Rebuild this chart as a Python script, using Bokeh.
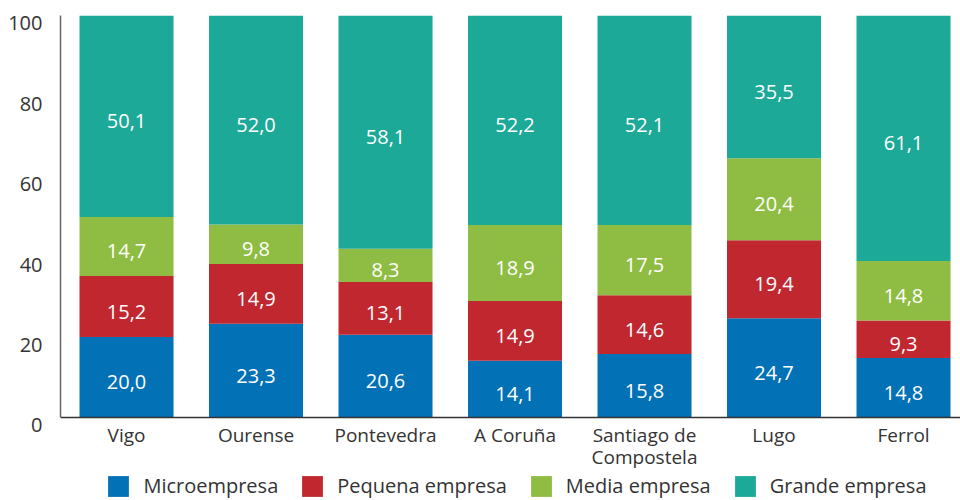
import numpy as np
from bokeh.plotting import figure
from bokeh.models import (ColumnDataSource, FixedTicker, Legend, LegendItem, Range1d,
                          LinearAxis, Span)
from bokeh.core.properties import value
from bokeh.embed import file_html
from bokeh.resources import INLINE

cities = ["Vigo", "Ourense", "Pontevedra", "A Coruña", "Santiago de\nCompostela", "Lugo", "Ferrol"]
series = ["Microempresa", "Pequena empresa", "Media empresa", "Grande empresa"]
micro = [20.0, 23.3, 20.6, 14.1, 15.8, 24.7, 14.8]
pequena = [15.2, 14.9, 13.1, 14.9, 14.6, 19.4, 9.3]
media = [14.7, 9.8, 8.3, 18.9, 17.5, 20.4, 14.8]
grande = [50.1, 52.0, 58.1, 52.2, 52.1, 35.5, 61.1]
y_ticks = [0, 20, 40, 60, 80, 100]
colors = ["#0371b5", "#c1272f", "#8fbd43", "#1ca998"]
FONT = "Open Sans"
TXT = "#333333"

keys = ["micro", "pequena", "media", "grande"]
x = list(range(len(cities)))
src = ColumnDataSource(dict(x=x, micro=micro, pequena=pequena, media=media, grande=grande))

# frame spans the whole lower area so the category names and legend can sit inside it
Y0 = -20.65          # value at the bottom of the frame (room for names + legend)
SHIFT = 1.99         # tick labels sit ~8px below their gridline value, as in the reference
p = figure(width=960, height=500,
           x_range=Range1d(-0.5097, 6.44), y_range=Range1d(Y0, 100),
           output_backend="svg", toolbar_location=None,
           min_border_left=60, min_border_right=0, min_border_top=15, min_border_bottom=0)
p.outline_line_color = None
p.grid.visible = False
p.xaxis.visible = False
p.background_fill_color = "white"

renderers = p.vbar_stack(keys, x="x", width=0.726, color=colors, line_color=None, source=src)

# value labels
vals = np.array([micro, pequena, media, grande])
bottoms = np.vstack([np.zeros(len(cities)), np.cumsum(vals, axis=0)[:-1]])
mids = bottoms + vals / 2
lx, ly, lt = [], [], []
for s in range(vals.shape[0]):
    for i in range(len(cities)):
        lx.append(x[i])
        ly.append(mids[s, i])
        lt.append(f"{vals[s, i]:.1f}".replace(".", ","))
lab = ColumnDataSource(dict(x=lx, y=ly, t=lt))
p.text(x="x", y="y", text="t", source=lab, text_align="center", text_baseline="middle",
       text_color="white", text_font=value(FONT), text_font_size="20px", y_offset=5)

# x baseline and category names
p.add_layout(Span(location=0, dimension="width", line_color="#333333", line_width=1.5))
csrc = ColumnDataSource(dict(x=x, y=[0] * len(x), t=cities))
p.text(x="x", y="y", text="t", source=csrc, text_align="center", text_baseline="top",
       y_offset=5, text_color=TXT, text_font=value(FONT), text_font_size="19px",
       text_line_height=0.82)

# y axis line (0..100 only)
p.yaxis.ticker = FixedTicker(ticks=[])
p.yaxis.bounds = (0, 100)
p.yaxis.major_tick_line_color = None
p.yaxis.minor_tick_line_color = None
p.yaxis.axis_line_color = "#666666"
p.yaxis.axis_line_width = 1.5

# y tick labels on a range shifted by a few pixels
p.extra_y_ranges = {"lab": Range1d(Y0 + SHIFT, 100 + SHIFT)}
yl = LinearAxis(y_range_name="lab", ticker=FixedTicker(ticks=y_ticks),
                axis_line_color=None, major_tick_line_color=None, minor_tick_line_color=None,
                major_label_standoff=12, major_label_text_font=FONT,
                major_label_text_font_size="20px", major_label_text_color=TXT)
p.add_layout(yl, "left")

# legend
leg = Legend(items=[LegendItem(label=n, renderers=[r]) for n, r in zip(series, renderers)],
             location=(45.4, 0.6), orientation="horizontal",
             glyph_width=26, glyph_height=26, label_height=26,
             label_standoff=12, padding=0, margin=0, spacing=21,
             border_line_color=None, background_fill_alpha=0,
             label_text_font=FONT, label_text_font_size="20px", label_text_color=TXT)
p.add_layout(leg, "center")

open("out.html", "w").write(file_html(p, INLINE))
